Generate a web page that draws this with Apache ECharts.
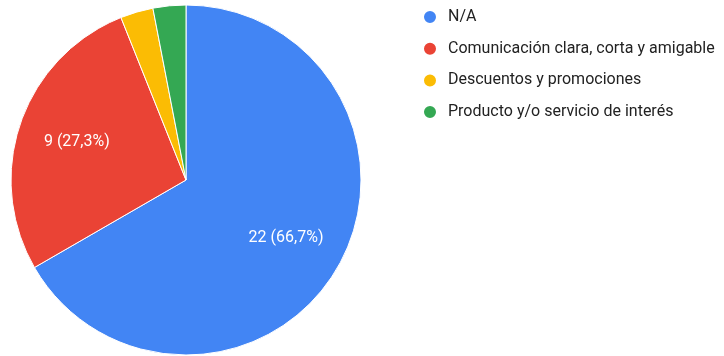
<!DOCTYPE html>
<html>
<head>
<meta charset="utf-8">
<script src="https://cdn.jsdelivr.net/npm/echarts@6/dist/echarts.min.js"></script>
<style>
  html, body { margin: 0; padding: 0; background: #fff; }
  #chart { width: 724px; height: 356px; }
</style>
</head>
<body>
<div id="chart"></div>
<script>
// Survey answers and their counts
const categories = ['N/A', 'Comunicación clara, corta y amigable', 'Descuentos y promociones', 'Producto y/o servicio de interés'];
const counts = [22, 9, 1, 1];
const colors = ['#4285F4', '#EA4335', '#FBBC04', '#34A853'];

const total = counts.reduce((a, b) => a + b, 0);
const pieData = categories.map((name, i) => ({ name, value: counts[i], itemStyle: { color: colors[i] } }));

const FONT = 'Roboto, "Liberation Sans", Arial, sans-serif';
const center = [186, 180];
const radius = 175;

const chart = echarts.init(document.getElementById('chart'), null, { renderer: 'canvas' });
chart.setOption({
  animation: false,
  color: colors,
  legend: {
    orient: 'vertical',
    left: 417,
    top: 4,
    icon: 'circle',
    itemWidth: 14,
    itemHeight: 14,
    itemGap: 15.7,
    textStyle: { fontFamily: FONT, fontSize: 16, lineHeight: 16, color: '#222', padding: [0, 0, 0, 6] },
    data: categories
  },
  series: [
    {
      type: 'pie',
      center: center,
      radius: [0, radius],
      startAngle: 90,
      clockwise: true,
      avoidLabelOverlap: false,
      label: { show: false },
      labelLine: { show: false },
      itemStyle: { borderColor: '#fff', borderWidth: 1 },
      emphasis: { disabled: true },
      data: pieData
    },
    {
      // transparent ring that only carries the value labels
      type: 'pie',
      center: center,
      radius: [50, radius],
      startAngle: 90,
      clockwise: true,
      silent: true,
      avoidLabelOverlap: false,
      itemStyle: { color: 'rgba(0,0,0,0)' },
      labelLine: { show: false },
      label: {
        show: true,
        position: 'inside',
        fontFamily: FONT,
        fontSize: 16,
        color: '#fff',
        formatter: p => {
          if (p.value / total < 0.05) return '';
          const pct = (p.value / total * 100).toFixed(1).replace('.', ',');
          return p.value + ' (' + pct + '%)';
        }
      },
      emphasis: { disabled: true },
      data: categories.map((name, i) => ({ name, value: counts[i] }))
    }
  ]
});
</script>
</body>
</html>
